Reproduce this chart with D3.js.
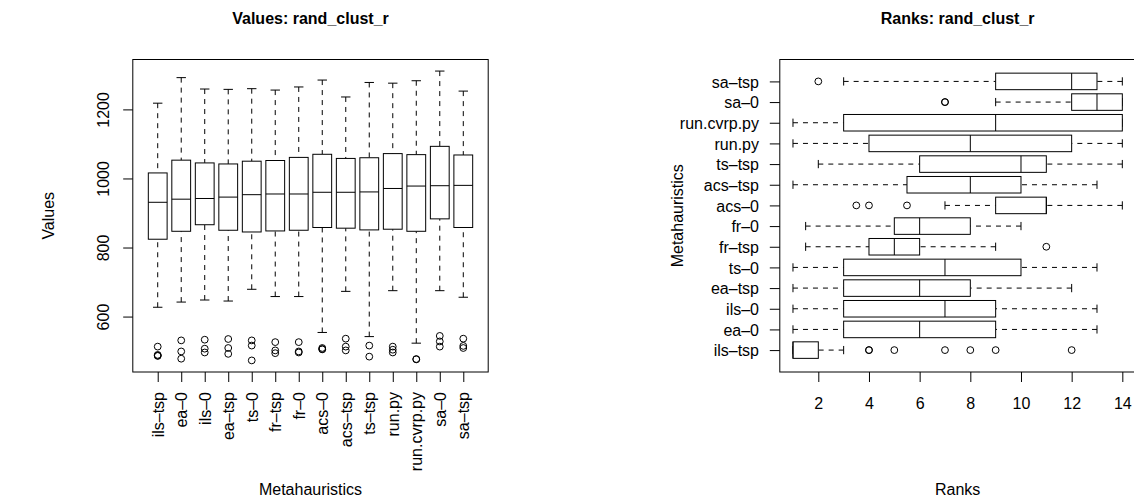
<!DOCTYPE html>
<html>
<head>
<meta charset="utf-8">
<script src="https://cdn.jsdelivr.net/npm/d3@7"></script>
<style>
  body { margin: 0; background: #fff; }
  svg text { font-family: "Liberation Sans", Arial, Helvetica, sans-serif; fill: #000; }
</style>
</head>
<body>
<svg id="chart" width="1134" height="501"></svg>
<script>
// Metaheuristic variants, in plotting order (bottom-to-top on the rank panel)
const categories = ["ils–tsp", "ea–0", "ils–0", "ea–tsp", "ts–0", "fr–tsp", "fr–0",
                    "acs–0", "acs–tsp", "ts–tsp", "run.py", "run.cvrp.py", "sa–0", "sa–tsp"];

// Raw objective values: whisker ends, quartiles, medians, outliers
const valueLow    = [627, 642, 648, 645, 679, 658, 658, 554, 673, 542, 675, 523, 675, 656];
const valueQ1     = [824, 847, 866, 850, 845, 848, 850, 858, 856, 851, 853, 847, 883, 858];
const valueMedian = [931, 940, 942, 946, 953, 955, 955, 960, 960, 961, 971, 978, 979, 980];
const valueQ3     = [1016, 1053, 1045, 1042, 1050, 1052, 1061, 1070, 1058, 1060, 1072, 1069, 1093, 1068];
const valueHigh   = [1218, 1292, 1259, 1258, 1260, 1256, 1265, 1285, 1236, 1278, 1276, 1283, 1311, 1253];
const valueOutliers = [
  [513, 489, 487, 486],
  [531, 499, 478],
  [533, 507, 496],
  [535, 509, 492],
  [531, 516, 473],
  [526, 502, 494],
  [526, 499, 496],
  [509, 506, 505],
  [536, 513, 502],
  [516, 484],
  [513, 504, 496],
  [477, 476],
  [544, 528, 513],
  [536, 515, 509]
];
const valueTicks = [600, 800, 1000, 1200];

// Ranks of each variant across instances
const rankLow    = [1, 1, 1, 1, 1, 1.5, 1.5, 7, 1, 2, 1, 1, 9, 3];
const rankQ1     = [1, 3, 3, 3, 3, 4, 5, 9, 5.5, 6, 4, 3, 12, 9];
const rankMedian = [1, 6, 7, 6, 7, 5, 6, 11, 8, 10, 8, 9, 13, 12];
const rankQ3     = [2, 9, 9, 8, 10, 6, 8, 11, 10, 11, 12, 14, 14, 13];
const rankHigh   = [3, 13, 13, 12, 13, 9, 10, 14, 13, 14, 14, 14, 14, 14];
const rankOutliers = [
  [4, 4, 5, 7, 8, 9, 12],
  [], [], [], [],
  [11],
  [],
  [3.5, 4, 5.5],
  [], [], [], [],
  [7, 7],
  [2]
];
const rankTicks = [2, 4, 6, 8, 10, 12, 14];

const svg = d3.select("#chart");
svg.append("rect").attr("width", 1134).attr("height", 501).attr("fill", "#fff");

const FONT = 16;
const TITLE_FONT = 16;
const TOP = 59.5, BOTTOM = 372;
const n = categories.length;
const catPad = 0.04 * n;          // axis extension around 0.5 .. n+0.5
const idx = d3.range(1, n + 1);

function padded(lo, hi) {
  const r = hi - lo;
  return [lo - 0.04 * r, hi + 0.04 * r];
}

function stats(low, q1, med, q3, high, outs) {
  return categories.map((c, i) => ({
    pos: i + 1, low: low[i], q1: q1[i], med: med[i], q3: q3[i], high: high[i], outs: outs[i]
  }));
}

// Draws one set of boxplots; vertical=true puts categories on x
function drawBoxes(g, data, cat, val, vertical) {
  const half = 0.4, cap = 0.2;
  const P = (c, v) => vertical ? [cat(c), val(v)] : [val(v), cat(c)];
  const line = (c0, v0, c1, v1) => {
    const a = P(c0, v0), b = P(c1, v1);
    return g.append("line").attr("x1", a[0]).attr("y1", a[1]).attr("x2", b[0]).attr("y2", b[1])
      .attr("stroke", "#000").attr("stroke-width", 1);
  };
  data.forEach(d => {
    // whiskers, drawn from the whisker end toward the box
    line(d.pos, d.low, d.pos, d.q1).attr("stroke-dasharray", "5,5");
    line(d.pos, d.high, d.pos, d.q3).attr("stroke-dasharray", "5,5");
    // staples
    line(d.pos - cap, d.low, d.pos + cap, d.low);
    line(d.pos - cap, d.high, d.pos + cap, d.high);
    // box
    const a = P(d.pos - half, d.q1), b = P(d.pos + half, d.q3);
    g.append("rect")
      .attr("x", Math.min(a[0], b[0])).attr("y", Math.min(a[1], b[1]))
      .attr("width", Math.abs(b[0] - a[0])).attr("height", Math.abs(b[1] - a[1]))
      .attr("fill", "#fff").attr("stroke", "#000").attr("stroke-width", 1);
    // median
    line(d.pos - half, d.med, d.pos + half, d.med);
    // outliers
    d.outs.forEach(o => {
      const p = P(d.pos, o);
      g.append("circle").attr("cx", p[0]).attr("cy", p[1]).attr("r", 3.4)
        .attr("fill", "none").attr("stroke", "#000").attr("stroke-width", 1);
    });
  });
}

function styleAxis(g) {
  g.attr("font-size", null).attr("font-family", null);
  g.select(".domain").remove();
  g.selectAll(".tick line").attr("stroke", "#000").attr("stroke-width", 1);
  g.selectAll(".tick text").attr("font-size", FONT).attr("fill", "#000");
}

// ---------- Left panel: raw values ----------
const L = { left: 132.8, right: 488.2 };
const valuesData = stats(valueLow, valueQ1, valueMedian, valueQ3, valueHigh, valueOutliers);
const allValues = valuesData.flatMap(d => [d.low, d.high, ...d.outs]);
const xL = d3.scaleLinear().domain([0.5 - catPad, n + 0.5 + catPad]).range([L.left, L.right]);
const yL = d3.scaleLinear().domain(padded(d3.min(allValues), d3.max(allValues))).range([BOTTOM, TOP]);

const gL = svg.append("g");
drawBoxes(gL, valuesData, xL, yL, true);
gL.append("rect").attr("x", L.left).attr("y", TOP).attr("width", L.right - L.left).attr("height", BOTTOM - TOP)
  .attr("fill", "none").attr("stroke", "#000").attr("stroke-width", 1);

const axYL = gL.append("g").attr("transform", `translate(${L.left},0)`)
  .call(d3.axisLeft(yL).tickValues(valueTicks).tickFormat(d3.format("d")).tickSize(9.6).tickSizeOuter(0));
styleAxis(axYL);
axYL.selectAll(".tick text").attr("x", 0).attr("y", 0).attr("dy", null)
  .attr("text-anchor", "middle").attr("transform", "translate(-24.3,0) rotate(-90)");

const axXL = gL.append("g").attr("transform", `translate(0,${BOTTOM})`)
  .call(d3.axisBottom(xL).tickValues(idx).tickFormat(i => categories[i - 1]).tickSize(10).tickSizeOuter(0));
styleAxis(axXL);
axXL.selectAll(".tick text").attr("x", 0).attr("y", 0).attr("dy", null)
  .attr("text-anchor", "end").attr("transform", "translate(5.5,20) rotate(-90)");

svg.append("text").attr("x", (L.left + L.right) / 2).attr("y", 23.5).attr("text-anchor", "middle")
  .attr("font-size", TITLE_FONT).attr("font-weight", "bold").text("Values: rand_clust_r");
svg.append("text").attr("x", (L.left + L.right) / 2).attr("y", 495).attr("text-anchor", "middle")
  .attr("font-size", FONT).text("Metahauristics");
svg.append("text").attr("transform", `translate(54,${(TOP + BOTTOM) / 2}) rotate(-90)`)
  .attr("text-anchor", "middle").attr("font-size", FONT).text("Values");

// ---------- Right panel: ranks ----------
const R = { left: 779.8, right: 1135.5 };
const ranksData = stats(rankLow, rankQ1, rankMedian, rankQ3, rankHigh, rankOutliers);
const allRanks = ranksData.flatMap(d => [d.low, d.high, ...d.outs]);
const xR = d3.scaleLinear().domain(padded(d3.min(allRanks), d3.max(allRanks))).range([R.left, R.right]);
const yR = d3.scaleLinear().domain([0.5 - catPad, n + 0.5 + catPad]).range([BOTTOM, TOP]);

const gR = svg.append("g");
drawBoxes(gR, ranksData, yR, xR, false);
gR.append("rect").attr("x", R.left).attr("y", TOP).attr("width", R.right - R.left).attr("height", BOTTOM - TOP)
  .attr("fill", "none").attr("stroke", "#000").attr("stroke-width", 1);

const axYR = gR.append("g").attr("transform", `translate(${R.left},0)`)
  .call(d3.axisLeft(yR).tickValues(idx).tickFormat(i => categories[i - 1]).tickSize(10).tickSizeOuter(0));
styleAxis(axYR);
axYR.selectAll(".tick text").attr("x", -20.8).attr("dy", "0.36em").attr("text-anchor", "end");

const axXR = gR.append("g").attr("transform", `translate(0,${BOTTOM})`)
  .call(d3.axisBottom(xR).tickValues(rankTicks).tickSize(10).tickSizeOuter(0));
styleAxis(axXR);
axXR.selectAll(".tick text").attr("y", 37.3).attr("dy", null).attr("text-anchor", "middle");

svg.append("text").attr("x", (R.left + R.right) / 2).attr("y", 23.5).attr("text-anchor", "middle")
  .attr("font-size", TITLE_FONT).attr("font-weight", "bold").text("Ranks: rand_clust_r");
svg.append("text").attr("x", (R.left + R.right) / 2).attr("y", 495).attr("text-anchor", "middle")
  .attr("font-size", FONT).text("Ranks");
svg.append("text").attr("transform", `translate(683,${(TOP + BOTTOM) / 2}) rotate(-90)`)
  .attr("text-anchor", "middle").attr("font-size", FONT).text("Metahauristics");
</script>
</body>
</html>
